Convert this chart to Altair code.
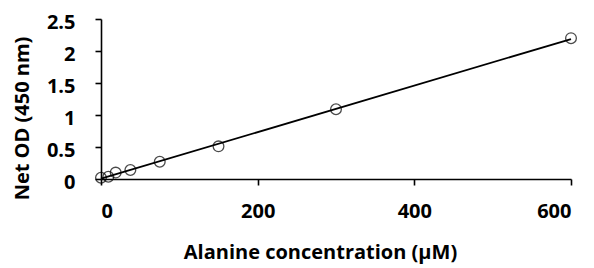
import altair as alt
import pandas as pd

conc = [0, 9.375, 18.75, 37.5, 75, 150, 300, 600]
od = [0.02, 0.035, 0.10, 0.14, 0.27, 0.51, 1.09, 2.20]
x_ticks = [0, 200, 400, 600]
y_ticks = [0, 0.5, 1, 1.5, 2, 2.5]

df = pd.DataFrame({"conc": conc, "od": od})

font = "Open Sans"

xenc = alt.X("conc:Q", scale=alt.Scale(domain=[0, 600], nice=False),
             axis=alt.Axis(values=x_ticks, title="Alanine concentration (µM)",
                           labelPadding=16, titleX=219, titleY=63))
yenc = alt.Y("od:Q", scale=alt.Scale(domain=[0, 2.5], nice=False),
             axis=alt.Axis(values=y_ticks, format="~g", title="Net OD (450 nm)",
                           labelPadding=20, labelOffset=3, labelFlush=False,
                           titleY=99, titleX=-69))

line = alt.Chart(df).transform_regression("conc", "od", extent=[0, 600]).mark_line(
    color="black", strokeWidth=1.8
).encode(x=xenc, y=yenc)

pts = alt.Chart(df).mark_point(
    shape="circle", filled=False, color="black", size=115, strokeWidth=1.3
).encode(x=xenc, y=yenc)

chart = (line + pts).properties(
    width=470, height=160,
    autosize=alt.AutoSizeParams(type="none"),
    padding={"left": 93, "top": 11, "right": 15, "bottom": 89},
).configure_axis(
    grid=False,
    domainColor="black", domainWidth=1.6,
    tickColor="black", tickWidth=1.6, tickSize=6,
    labelFont=font, labelFontSize=20, labelFontWeight="bold", labelColor="black",
    titleFont=font, titleFontSize=20, titleFontWeight="bold", titleColor="black",
).configure_view(stroke=None)

chart.save("out.html", embed_options={"renderer": "svg", "actions": False})
